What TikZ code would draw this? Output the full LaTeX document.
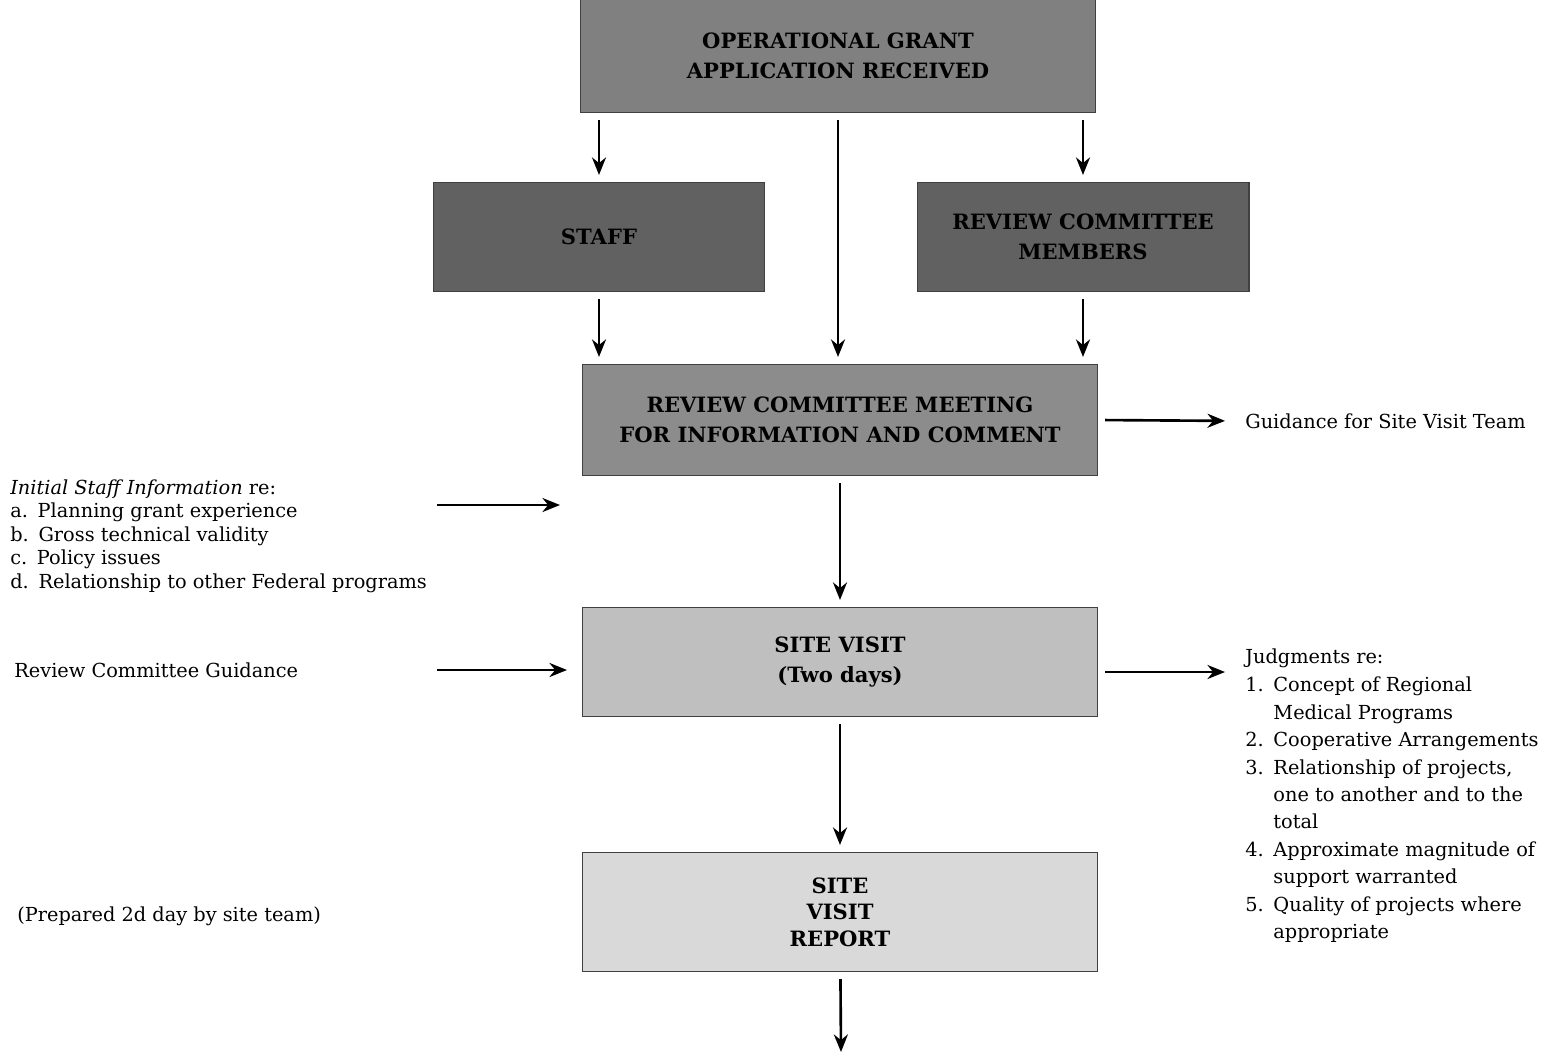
\documentclass[tikz,border=0pt]{standalone}
\usepackage{fontspec}
\setmainfont{DejaVu Serif}
\usetikzlibrary{positioning,arrows.meta}

\begin{document}
\begin{tikzpicture}[x=0.02cm, y=-0.02cm,
  box/.style={fill=#1, draw=black!75, line width=0.6pt, minimum width=10.3cm, minimum height=2.22cm,
              font=\bfseries\fontsize{12}{17}\selectfont, align=center},
  smallbox/.style={box=#1, minimum width=6.64cm, minimum height=2.18cm},
  note/.style={font=\fontsize{11}{13.4}\selectfont, align=left, inner sep=0pt},
  arr/.style={-{Stealth[length=10pt,width=8pt]}, line width=1.5pt, shorten <=4pt, shorten >=4pt}
]
  \useasboundingbox (0,0) rectangle (1560,1056);

  % flow boxes
  \node[box=black!50, minimum height=2.26cm] (appl) at (838,56) {OPERATIONAL GRANT\\APPLICATION RECEIVED};
  \node[smallbox=black!62] (staff) at (599,237) {STAFF};
  \node[smallbox=black!62] (members) at (1083,237) {REVIEW COMMITTEE\\MEMBERS};
  \node[box=black!45] (meeting) at (840,420) {REVIEW COMMITTEE MEETING\\FOR INFORMATION AND COMMENT};
  \node[box=black!25, minimum height=2.18cm] (visit) at (840,662) {SITE VISIT\\(Two days)};
  \node[box=black!15, minimum height=2.38cm, font=\bfseries\fontsize{12}{15}\selectfont] (report) at (840,912) {SITE\\VISIT\\REPORT};

  % side texts
  \node[note, anchor=west] (guidance) at (1245,421) {Guidance for Site Visit Team};
  \node[note, anchor=north west] (info) at (10,479)
    {\textit{Initial Staff Information} re:\\
     a.\enspace Planning grant experience\\
     b.\enspace Gross technical validity\\
     c.\enspace Policy issues\\
     d.\enspace Relationship to other Federal programs};
  \node[note, anchor=west] (rcguide) at (14,670) {Review Committee Guidance};
  \node[note, anchor=west] (prepared) at (17,916) {(Prepared 2d day by site team)};
  \node[note, anchor=north west, font=\fontsize{11}{15.6}\selectfont] (judgments) at (1245,648)
    {Judgments re:\\[2pt]
     \begin{tabular}{@{}l@{\enspace}l@{}}
       1. & Concept of Regional\\
          & Medical Programs\\
       2. & Cooperative Arrangements\\
       3. & Relationship of projects,\\
          & one to another and to the\\
          & total\\
       4. & Approximate magnitude of\\
          & support warranted\\
       5. & Quality of projects where\\
          & appropriate
     \end{tabular}};

  \coordinate (infofrom) at (437,505);
  \coordinate (guidefrom) at (437,670);
  \coordinate (judgto) at (1225,672);
  \coordinate (next) at (841,1052);

  % connectors
  \draw[arr] (appl.south -| staff.north) -- (staff.north);
  \draw[arr] (appl.south) -- (appl.south |- meeting.north);
  \draw[arr] (appl.south -| members.north) -- (members.north);
  \draw[arr] (staff.south) -- (staff.south |- meeting.north);
  \draw[arr] (members.south) -- (members.south |- meeting.north);
  \draw[arr, shorten >=0.4cm] (meeting.east) -- (guidance.west);
  \draw[arr] (meeting) -- (visit);
  \draw[arr, shorten <=0pt] (infofrom) -- ([xshift=-0.3cm]infofrom -| visit.west);
  \draw[arr, shorten <=0pt, shorten >=0.3cm] (guidefrom) -- (guidefrom -| visit.west);
  \draw[arr, shorten >=0pt] (judgto -| visit.east) -- (judgto);
  \draw[arr] (visit) -- (report);
  \draw[arr, shorten >=0pt] (report) -- (next);
\end{tikzpicture}
\end{document}
